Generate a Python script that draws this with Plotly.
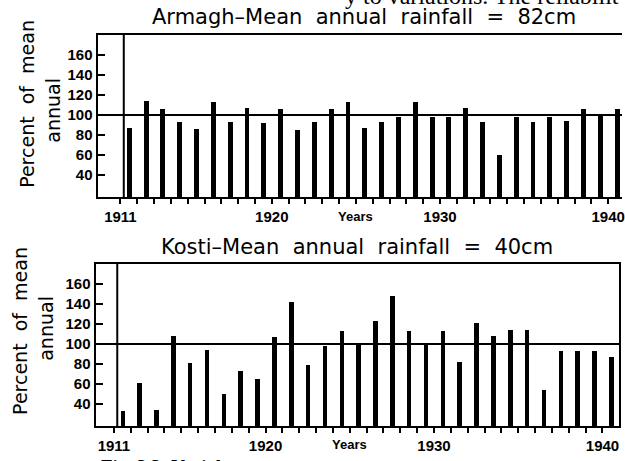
import plotly.graph_objects as go

# Annual rainfall as percent of the long-term mean, 1911-1940
years = list(range(1911, 1941))
armagh_pct = [87, 114, 106, 93, 86, 113, 93, 107, 92, 106,
              85, 93, 106, 113, 87, 93, 98, 113, 98, 98,
              107, 93, 60, 98, 93, 98, 94, 106, 99, 106]
kosti_pct = [33, 61, 34, 108, 81, 94, 50, 73, 65, 107,
             142, 79, 98, 113, 99, 123, 148, 113, 99, 113,
             82, 121, 108, 114, 114, 54, 93, 93, 93, 87]
y_tick_vals = [40, 60, 80, 100, 120, 140, 160]
x_label_years = [1911, 1920, 1930, 1940]
armagh_title = "Armagh\u2013Mean  annual  rainfall  =  82cm"
kosti_title = "Kosti\u2013Mean  annual  rainfall  =  40cm"

W, H = 625, 461


def px_x(p):
    return p / W


def px_y(p):
    return 1 - p / H


# each bar sits in the middle of its year
bar_x = [y + 0.5 for y in years]
tick_text = [str(y) if y in x_label_years else "" for y in years]

AX_FONT = dict(family="Liberation Sans", size=15, color="black", weight="bold")

fig = go.Figure()
fig.add_trace(go.Bar(x=bar_x, y=armagh_pct, width=0.29, marker=dict(color="black", line=dict(width=0)),
                     xaxis="x", yaxis="y", showlegend=False))
fig.add_trace(go.Bar(x=bar_x, y=kosti_pct, width=0.27, marker=dict(color="black", line=dict(width=0)),
                     xaxis="x2", yaxis="y2", showlegend=False))

xcommon = dict(showline=True, linecolor="black", linewidth=2, ticks="outside", ticklen=5,
               tickwidth=2, tickcolor="black", tickmode="array", tickvals=years, ticktext=tick_text,
               showgrid=False, zeroline=False, tickfont=AX_FONT, mirror=True,
               ticklabeloverflow="allow")
ycommon = dict(showline=True, linecolor="black", linewidth=2, ticks="inside", ticklen=7,
               tickwidth=2, tickcolor="black", tickmode="array", tickvals=y_tick_vals,
               showgrid=False, zeroline=False, tickfont=AX_FONT, range=[18, 180])

fig.update_layout(
    width=W, height=H,
    margin=dict(l=0, r=0, t=0, b=0),
    paper_bgcolor="white", plot_bgcolor="white",
    bargap=0,
    xaxis=dict(xcommon, domain=[px_x(98), 1.0], range=[1909.64, 1940.82], anchor="y"),
    yaxis=dict(ycommon, domain=[px_y(197), px_y(35)], anchor="x"),
    xaxis2=dict(xcommon, domain=[px_x(96), px_x(622)], range=[1909.91, 1940.98], anchor="y2"),
    yaxis2=dict(ycommon, domain=[px_y(426), px_y(264)], anchor="x2", mirror=True),
)

shapes = []
for xr, yr in (("x", "y"), ("x2", "y2")):
    # reference line at 100 percent of the mean
    shapes.append(dict(type="line", xref=f"{xr} domain", yref=yr, x0=0, x1=1, y0=100, y1=100,
                       line=dict(color="black", width=2)))
    # marker line at the start of the record
    shapes.append(dict(type="line", xref=xr, yref=f"{yr} domain", x0=1911.2, x1=1911.2, y0=0, y1=1,
                       line=dict(color="black", width=2)))
fig.update_layout(shapes=shapes)

TITLE_FONT = dict(family="DejaVu Sans", size=21, color="black")
YT_FONT = dict(family="DejaVu Sans", size=19, color="black")
YEARS_FONT = dict(family="Liberation Sans", size=13, color="black", weight="bold")


def note(text, x, y, font, xref="paper", angle=0, xanchor="center"):
    return dict(text=text, x=x, y=y, xref=xref, yref="paper", showarrow=False,
                textangle=angle, font=font, xanchor=xanchor, yanchor="middle")


annotations = [
    note(armagh_title, px_x(366), px_y(17), TITLE_FONT),
    note(kosti_title, px_x(359), px_y(247), TITLE_FONT),
    note("Years", 1925, px_y(216), YEARS_FONT, xref="x"),
    note("Years", 1925, px_y(444), YEARS_FONT, xref="x2"),
    note("Percent  of  mean", px_x(27), px_y(104), YT_FONT, angle=-90),
    note("annual", px_x(53), px_y(110), YT_FONT, angle=-90),
    note("Percent  of  mean", px_x(20), px_y(331), YT_FONT, angle=-90),
    note("annual", px_x(46), px_y(328), YT_FONT, angle=-90),
    # running text of the page above and the caption below
    note("y to variations. The reliabilit", px_x(345), px_y(-4),
         dict(family="Liberation Serif", size=24, color="black"), xanchor="left"),
    note("Fig. 3.3: Variab", px_x(99), px_y(466),
         dict(family="Liberation Serif", size=19, color="black", weight="bold"), xanchor="left"),
]
fig.update_layout(annotations=annotations)

fig.write_html("out.html")
